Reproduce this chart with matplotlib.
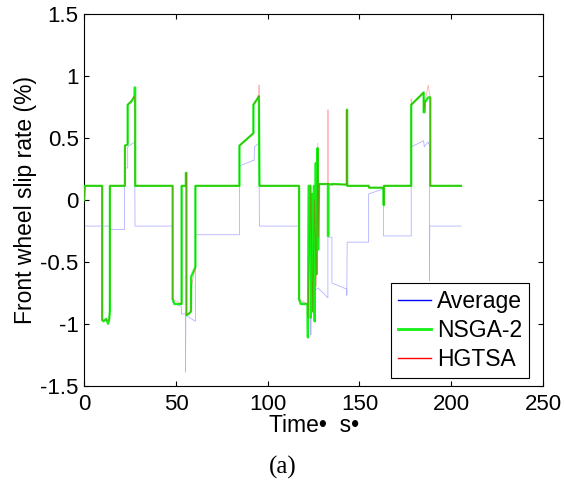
import matplotlib
matplotlib.use("Agg")
import matplotlib.pyplot as plt
from matplotlib.lines import Line2D

# -----------------------
# Data (step vertices)
# -----------------------
avg_t = [0, 0.2, 14.3, 14.3, 22.0, 22.0, 23.7, 23.7, 27.5, 27.7, 48.2, 48.2, 53.0,
         53.0, 55.2, 55.2, 55.4, 60.6, 60.6, 84.6, 84.6, 92.0, 92.6, 92.8, 95.2,
         95.5, 117.1, 117.1, 121.7, 122.0, 123.3, 123.5, 124.0, 127.4, 132.8, 132.8,
         135.0, 135.0, 143.1, 143.1, 143.3, 155.0, 155.0, 163.1, 163.1, 178.2, 178.2,
         185.0, 185.3, 187.3, 188.2, 188.2, 188.3, 205.3]
avg_y = [0.0, -0.21, -0.21, -0.237, -0.237, 0.26, 0.26, 0.43, 0.47, -0.21, -0.21, -0.83, -0.86,
         -0.92, -0.92, -1.39, -0.93, -0.98, -0.28, -0.28, 0.275, 0.32, 0.32, 0.43, 0.46,
         -0.21, -0.21, -0.82, -0.84, -0.95, -0.95, -1.09, -0.75, -0.71, -0.79, -0.30,
         -0.30, -0.67, -0.72, -0.77, -0.34, -0.34, 0.05, 0.09, -0.29, -0.29, 0.43,
         0.48, 0.43, 0.47, 0.44, -0.65, -0.21, -0.21]

nsga_t = [0, 0.4, 9.8, 9.8, 10.5, 12.0, 13.0, 13.6, 14.0, 14.0, 22.2, 22.2, 23.7, 23.7,
          25.9, 27.4, 27.5, 27.8, 27.8, 48.2, 48.2, 49.2, 53.1, 53.1, 55.4, 55.4, 55.7,
          55.7, 57.0, 58.2, 58.3, 60.6, 60.6, 84.6, 84.6, 92.2, 92.2, 94.9, 95.2, 95.5,
          117.1, 117.1, 118.0, 121.7, 121.9, 122.3, 123.3, 123.5, 124.0, 124.2, 124.6,
          125.2, 125.6, 126.2, 126.6, 127.2, 127.5, 128.0, 132.8, 132.8, 133.1, 133.1,
          135.0, 135.3, 143.1, 143.1, 143.3, 143.3, 155.0, 155.3, 163.1, 163.1, 163.4,
          163.4, 178.2, 178.2, 185.0, 185.0, 185.5, 185.7, 187.5, 188.6, 188.6, 205.3]
nsga_y = [0.0, 0.115, 0.115, -0.97, -0.98, -0.96, -1.0, -0.97, -0.9, 0.115, 0.115, 0.44, 0.45, 0.77,
          0.8, 0.84, 0.91, 0.91, 0.115, 0.115, -0.80, -0.84, -0.84, 0.115, 0.115, 0.22, 0.22,
          -0.93, -0.92, -0.90, -0.62, -0.54, 0.115, 0.115, 0.44, 0.54, 0.77, 0.83, 0.84, 0.115,
          0.115, -0.80, -0.84, -0.84, -1.11, 0.115, 0.115, -0.95, -0.3, 0.05, -0.9,
          0.115, -0.98, 0.3, -0.6, 0.42, -0.4, 0.13, 0.13, -0.29, -0.29, 0.13,
          0.125, 0.13, 0.125, 0.73, 0.73, 0.115, 0.115, 0.10, 0.10, -0.04, -0.04,
          0.115, 0.115, 0.77, 0.87, 0.71, 0.71, 0.79, 0.83, 0.83, 0.115, 0.115]

hgtsa_t = [0, 0.4, 9.8, 9.8, 13.6, 14.0, 14.0, 22.2, 22.2, 23.7, 23.7, 27.4, 27.6, 27.7,
           27.7, 48.2, 48.2, 53.1, 53.1, 55.4, 55.4, 55.7, 55.7, 58.2, 58.3, 60.6, 60.6,
           84.6, 84.6, 92.2, 92.2, 95.2, 95.3, 95.5, 117.1, 117.1, 121.7, 122.0, 123.5,
           124.5, 125.5, 126.5, 127.3, 127.6, 128.0, 132.8, 132.8, 132.9, 132.9, 143.1,
           143.1, 143.3, 143.3, 155.0, 155.3, 163.1, 163.1, 163.4, 163.4, 178.2, 178.2,
           178.4, 185.0, 185.0, 185.7, 187.5, 188.5, 188.6, 188.6, 205.6]
hgtsa_y = [0.0, 0.115, 0.115, -0.97, -0.97, -0.78, 0.115, 0.115, 0.44, 0.45, 0.77, 0.84, 0.8,
           0.75, 0.115, 0.115, -0.80, -0.84, 0.115, 0.115, 0.22, 0.22, -0.93, -0.90, -0.71,
           -0.54, 0.115, 0.115, 0.44, 0.54, 0.77, 0.84, 0.93, 0.115, 0.115, -0.80, -0.84,
           -0.95, 0.115, -0.9, 0.0, -0.7, 0.46, -0.3, 0.13, 0.13, 0.73, 0.73, 0.13,
           0.125, 0.73, 0.73, 0.115, 0.115, 0.10, 0.10, -0.04, -0.04, 0.115, 0.115, 0.82,
           0.77, 0.87, 0.71, 0.79, 0.93, 0.83, 0.83, 0.115, 0.115]

legend_labels = ['Average', 'NSGA-2', 'HGTSA']

# -----------------------
# Plot
# -----------------------
plt.rcParams['font.family'] = ['Liberation Sans', 'DejaVu Sans']
plt.rcParams['axes.unicode_minus'] = False

fig = plt.figure(figsize=(5.65, 4.83), dpi=100)
ax = fig.add_axes([0.149, 0.2015, 0.812, 0.7685])

green = '#14f014'
ax.plot(avg_t, avg_y, color='#0000ff', lw=0.6, alpha=0.3, zorder=2)
ax.plot(nsga_t, nsga_y, color=green, lw=1.6, zorder=3)
ax.plot(hgtsa_t, hgtsa_y, color='#ff0000', lw=0.6, alpha=0.3, zorder=4)

ax.set_xlim(0, 250)
ax.set_ylim(-1.5, 1.5)
ax.set_xticks([0, 50, 100, 150, 200, 250])
ax.set_yticks([-1.5, -1, -0.5, 0, 0.5, 1, 1.5])
ax.set_yticklabels(['-1.5', '-1', '-0.5', '0', '0.5', '1', '1.5'])
ax.tick_params(direction='in', top=True, right=True, length=3.5, width=0.8,
               labelsize=16, pad=4)
ax.tick_params(axis='x', pad=6)
for s in ax.spines.values():
    s.set_linewidth(0.8)

ax.set_xlabel('Time\u2022  s\u2022', fontsize=16.5, labelpad=-1)
ax.set_ylabel('Front wheel slip rate (%)', fontsize=16.5, labelpad=2)

handles = [Line2D([], [], color='#0000ff', lw=1.0),
           Line2D([], [], color=green, lw=2.0),
           Line2D([], [], color='#ff0000', lw=1.0)]
leg = fig.legend(handles, legend_labels, loc='lower right',
                 bbox_to_anchor=(529 / 565, 1 - 378 / 483), borderaxespad=0,
                 fontsize=16.5, fancybox=False, edgecolor='black', framealpha=1,
                 handlelength=1.45, handletextpad=0.25, labelspacing=0.27,
                 borderpad=0.3)
leg.get_frame().set_linewidth(0.8)

fig.text(0.5, 1 - 467 / 483, '(a)', ha='center', va='center', fontsize=18,
         family='Liberation Serif')

fig.savefig('out.png', dpi=100)
